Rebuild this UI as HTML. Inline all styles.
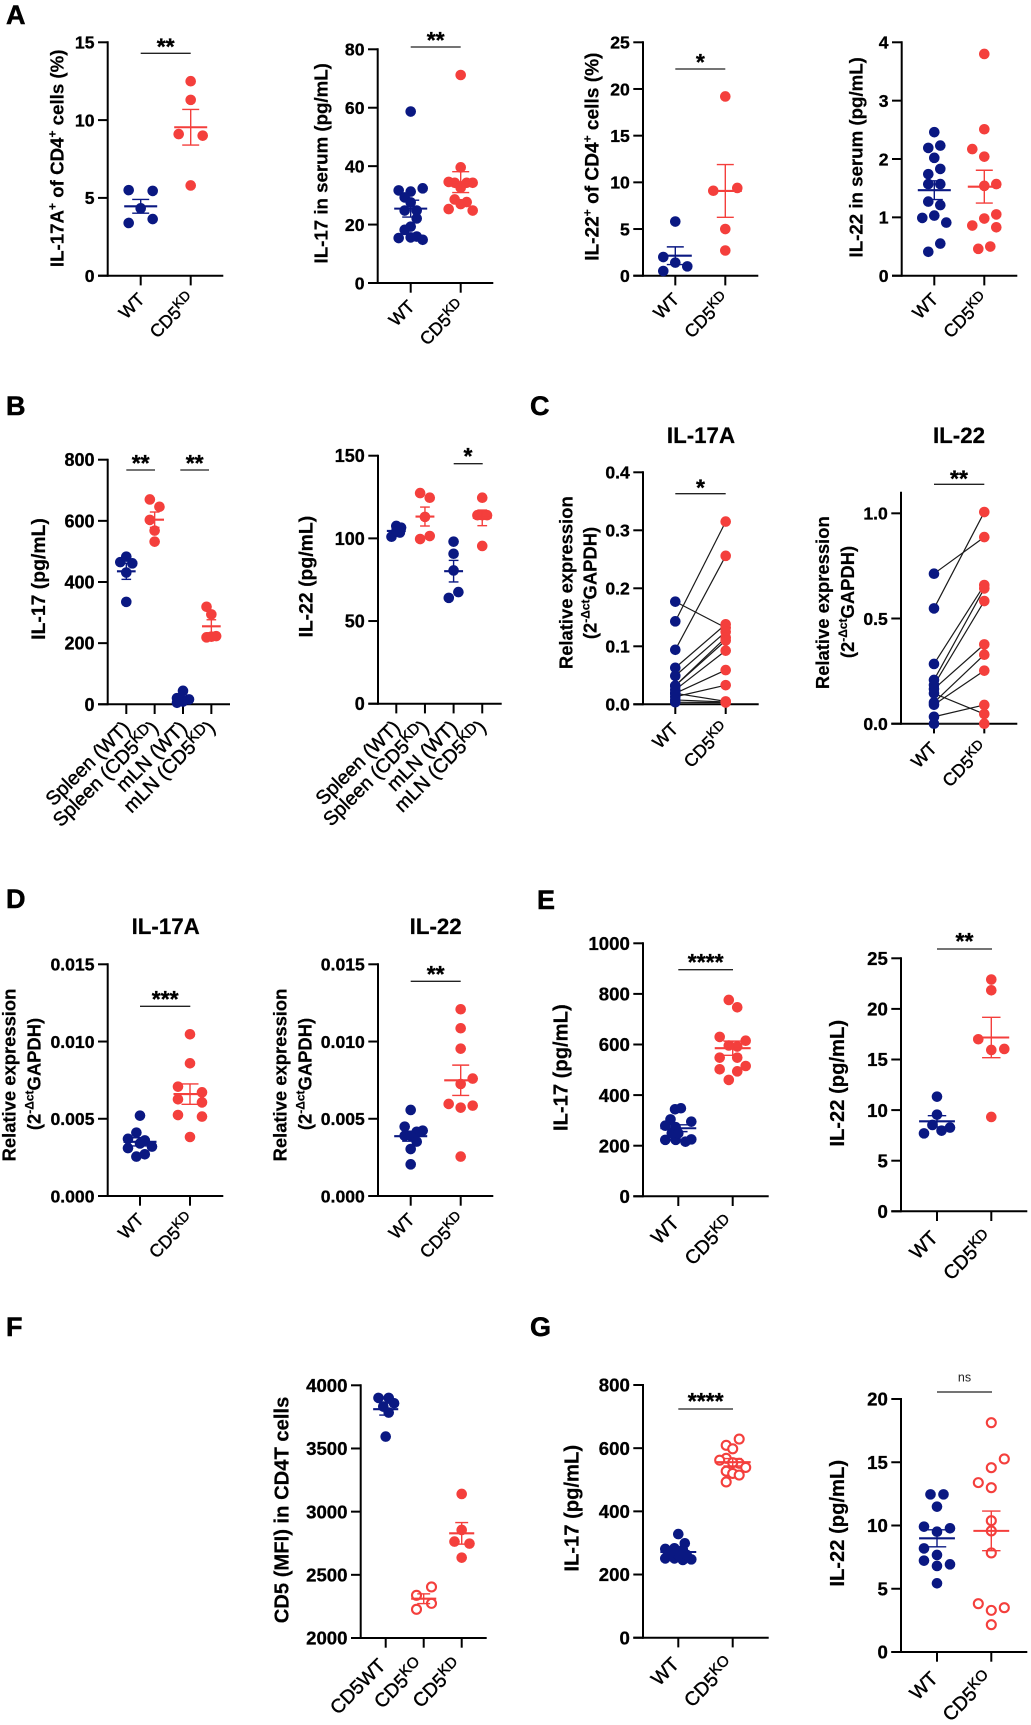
<!DOCTYPE html>
<html lang="en">
<head>
<meta charset="utf-8">
<title>CD5 knockdown cytokine panels</title>
<style>
html,body{margin:0;padding:0;background:#fff;}
svg{display:block;font-family:"Liberation Sans",Arial,sans-serif;}
.panel-letter{font-size:27px;font-weight:bold;fill:#000;stroke:#000;stroke-width:.5;}
.title{font-size:22.3px;font-weight:bold;text-anchor:middle;stroke:#000;stroke-width:.25;}
.axis-title{font-size:18.4px;font-weight:bold;text-anchor:middle;stroke:#000;stroke-width:.2;}
.at-a{font-size:18.7px;}
.at-a3{font-size:19.1px;}
.at-b{font-size:19.4px;}
.at-e{font-size:20.2px;}
.sup{font-size:12px;}
.stars{font-size:23px;font-weight:bold;text-anchor:middle;stroke:#000;stroke-width:.3;}
.ns{font-size:12.5px;text-anchor:middle;fill:#222;}
.sig{stroke:#222;stroke-width:1.3;}
.tick-label{font-weight:bold;text-anchor:end;stroke:#000;stroke-width:.3;}
.cat-label{text-anchor:end;stroke:#000;stroke-width:.42;}
</style>
</head>
<body>
<svg id="chart-root" xmlns="http://www.w3.org/2000/svg" width="1031" height="1725" viewBox="0 0 1031 1725">
<rect width="1031" height="1725" fill="#fff"/>

<text class="panel-letter" x="6" y="24">A</text>
<text class="panel-letter" x="6" y="415">B</text>
<text class="panel-letter" x="530" y="415">C</text>
<text class="panel-letter" x="6" y="908">D</text>
<text class="panel-letter" x="537" y="909">E</text>
<text class="panel-letter" x="6" y="1336">F</text>
<text class="panel-letter" x="530" y="1336">G</text>

<text class="title" x="701" y="443">IL-17A</text>
<text class="title" x="959" y="443">IL-22</text>
<text class="title" x="165.7" y="934">IL-17A</text>
<text class="title" x="435.7" y="934">IL-22</text>

<text class="axis-title at-a" transform="translate(63.3,158.3) rotate(-90)">IL-17A<tspan class="sup" dy="-7">+</tspan><tspan dy="7"> of CD4</tspan><tspan class="sup" dy="-7">+</tspan><tspan dy="7"> cells (%)</tspan></text>
<text class="axis-title at-a" transform="translate(327.7,163.3) rotate(-90)">IL-17 in serum (pg/mL)</text>
<text class="axis-title at-a3" transform="translate(598.3,156.7) rotate(-90)">IL-22<tspan class="sup" dy="-7">+</tspan><tspan dy="7"> of CD4</tspan><tspan class="sup" dy="-7">+</tspan><tspan dy="7"> cells (%)</tspan></text>
<text class="axis-title at-a" transform="translate(862.7,157.3) rotate(-90)">IL-22 in serum (pg/mL)</text>
<text class="axis-title at-b" transform="translate(45,579) rotate(-90)">IL-17 (pg/mL)</text>
<text class="axis-title at-b" transform="translate(312.7,576.7) rotate(-90)">IL-22 (pg/mL)</text>
<text class="axis-title" transform="translate(572.3,582.7) rotate(-90)">Relative expression</text>
<text class="axis-title" transform="translate(596.7,583) rotate(-90)">(2<tspan class="sup" dy="-7">-Δct</tspan><tspan dy="7">GAPDH)</tspan></text>
<text class="axis-title" transform="translate(829,602.7) rotate(-90)">Relative expression</text>
<text class="axis-title" transform="translate(854,602) rotate(-90)">(2<tspan class="sup" dy="-7">-Δct</tspan><tspan dy="7">GAPDH)</tspan></text>
<text class="axis-title" transform="translate(15.7,1075) rotate(-90)">Relative expression</text>
<text class="axis-title" transform="translate(40.7,1074) rotate(-90)">(2<tspan class="sup" dy="-7">-Δct</tspan><tspan dy="7">GAPDH)</tspan></text>
<text class="axis-title" transform="translate(286.7,1075) rotate(-90)">Relative expression</text>
<text class="axis-title" transform="translate(311.7,1074) rotate(-90)">(2<tspan class="sup" dy="-7">-Δct</tspan><tspan dy="7">GAPDH)</tspan></text>
<text class="axis-title at-e" transform="translate(567.3,1067.7) rotate(-90)">IL-17 (pg/mL)</text>
<text class="axis-title at-e" transform="translate(844,1083.3) rotate(-90)">IL-22 (pg/mL)</text>
<text class="axis-title at-e" transform="translate(288.3,1510) rotate(-90)">CD5 (MFI) in CD4T cells</text>
<text class="axis-title at-e" transform="translate(578.3,1508.3) rotate(-90)">IL-17 (pg/mL)</text>
<text class="axis-title at-e" transform="translate(844,1523.3) rotate(-90)">IL-22 (pg/mL)</text>

<g><line class="sig" x1="140.7" x2="190.7" y1="53.3" y2="53.3"/><text class="stars" x="165.7" y="54.7">**</text></g>
<g><line class="sig" x1="410.7" x2="460.7" y1="47" y2="47"/><text class="stars" x="435.7" y="48">**</text></g>
<g><line class="sig" x1="675.3" x2="725.3" y1="69" y2="69"/><text class="stars" x="700.3" y="70">*</text></g>
<g><line class="sig" x1="126.3" x2="155" y1="470" y2="470"/><text class="stars" x="140.7" y="471">**</text></g>
<g><line class="sig" x1="180.3" x2="209" y1="470" y2="470"/><text class="stars" x="194.7" y="471">**</text></g>
<g><line class="sig" x1="453.7" x2="482.7" y1="463.7" y2="463.7"/><text class="stars" x="468" y="464">*</text></g>
<g><line class="sig" x1="675.3" x2="725.7" y1="493.7" y2="493.7"/><text class="stars" x="700.5" y="495.3">*</text></g>
<g><line class="sig" x1="934" x2="984.3" y1="484.3" y2="484.3"/><text class="stars" x="959" y="486.3">**</text></g>
<g><line class="sig" x1="140" x2="190.3" y1="1006.3" y2="1006.3"/><text class="stars" x="165.2" y="1007">***</text></g>
<g><line class="sig" x1="410.7" x2="460.7" y1="981.3" y2="981.3"/><text class="stars" x="435.7" y="982">**</text></g>
<g><line class="sig" x1="678.3" x2="733" y1="969.7" y2="969.7"/><text class="stars" x="705.7" y="970">****</text></g>
<g><line class="sig" x1="937" x2="992" y1="949" y2="949"/><text class="stars" x="964.5" y="949">**</text></g>
<g><line class="sig" x1="678.3" x2="733" y1="1409" y2="1409"/><text class="stars" x="705.7" y="1409">****</text></g>
<g><line class="sig" x1="937" x2="992" y1="1392" y2="1392"/><text class="ns" x="964.5" y="1381.7">ns</text></g>
</svg>

<script>
// ---- Category labels ("|" toggles superscript) ----
const catsKd = ['WT', 'CD5|KD'];
const catsKo = ['WT', 'CD5|KO'];
const catsTissue = ['Spleen (WT)', 'Spleen (CD5|KD|)', 'mLN (WT)', 'mLN (CD5|KD|)'];
const catsCd5 = ['CD5WT', 'CD5|KO', 'CD5|KD'];

// ---- Tick labels ----
const a1Ticks = ['0', '5', '10', '15'];
const a2Ticks = ['0', '20', '40', '60', '80'];
const a3Ticks = ['0', '5', '10', '15', '20', '25'];
const a4Ticks = ['0', '1', '2', '3', '4'];
const b1Ticks = ['0', '200', '400', '600', '800'];
const b2Ticks = ['0', '50', '100', '150'];
const c1Ticks = ['0.0', '0.1', '0.2', '0.3', '0.4'];
const c2Ticks = ['0.0', '0.5', '1.0'];
const dTicks = ['0.000', '0.005', '0.010', '0.015'];
const e1Ticks = ['0', '200', '400', '600', '800', '1000'];
const e2Ticks = ['0', '5', '10', '15', '20', '25'];
const fTicks = ['2000', '2500', '3000', '3500', '4000'];
const g1Ticks = ['0', '200', '400', '600', '800'];
const g2Ticks = ['0', '5', '10', '15', '20'];

// ---- Series values, with swarm lane numbers for each point ----
const a1Wt = [5.5, 5.45, 4.33, 3.64, 3.39];
const a1WtLanes = [-2, 2, 0, 2, -2];
const a1Kd = [12.5, 11.3, 9.1, 9.0, 5.8];
const a1KdLanes = [0, 0, -2, 2, 0];

const a2Wt = [58.7, 31.7, 31.3, 32.4, 29.3, 27.6, 24.8, 24.8, 22.1, 19.3, 18.2, 15.4, 15.6, 15.9, 14.8];
const a2WtLanes = [0, -2, 0, 2, -1, 0, -1, 1, 1, 0, -1, -2, 0, 1, 2];
const a2Kd = [71.2, 39.6, 34.6, 34.3, 34.3, 34.3, 32.6, 28.6, 27.7, 27, 25.3, 24.8];
const a2KdLanes = [0, 0, -2, -1, 2, 1, 0, -1, 1, 0, -2, 2];

const a3Wt = [5.8, 2.0, 1.4, 1.0, 0.5];
const a3WtLanes = [0, -2, 0, 2, -2];
const a3Kd = [19.2, 9.4, 9.1, 5.0, 2.7];
const a3KdLanes = [0, 2, -2, 0, 0];

const a4Wt = [2.46, 2.19, 2.23, 2.02, 1.83, 1.74, 1.57, 1.57, 1.27, 1.21, 0.99, 1.03, 0.91, 0.55, 0.41];
const a4WtLanes = [0, -1, 1, 0, 1, -1, -1, 1, -1, 1, -2, 0, 2, 1, -1];
const a4Kd = [3.8, 2.51, 2.17, 2.04, 1.54, 1.57, 1.05, 0.98, 0.86, 0.83, 0.5, 0.46];
const a4KdLanes = [0, 0, -2, 0, 0, 2, 2, 0, -2, 2, 1, -1];

const b1SpleenWt = [483, 465, 461, 431, 335];
const b1SpleenWtLanes = [0, -1, 1, 0, 0];
const b1SpleenKd = [670, 646, 603, 568, 532];
const b1SpleenKdLanes = [-0.8, 0.8, -0.8, 0, 0];
const b1MlnWt = [44, 20, 16, 9, 5];
const b1MlnWtLanes = [0, -1, 1, 0, -1];
const b1MlnKd = [319, 294, 219, 223, 221];
const b1MlnKdLanes = [-0.8, 0, -0.8, 0.8, 0];

const b2SpleenWt = [101, 107.5, 106.5, 104, 103.5];
const b2SpleenWtLanes = [-0.8, 0, 0.8, 0, 0.6];
const b2SpleenKd = [127.4, 124.6, 113, 101.4, 99.6];
const b2SpleenKdLanes = [-0.8, 0.8, 0, 0.8, -0.8];
const b2MlnWt = [98, 90.7, 80.6, 67.5, 64];
const b2MlnWtLanes = [0, 0, 0, 0.8, -0.8];
const b2MlnKd = [124.6, 114, 114, 114, 95.4];
const b2MlnKdLanes = [0, -0.8, 0.8, 0, 0];

const c1Wt = [0.143, 0.094, 0.177, 0.063, 0.049, 0.032, 0.032, 0.025, 0.019, 0.013, 0.019, 0.0075, 0.0035];
const c1Kd = [0.315, 0.256, 0.132, 0.138, 0.125, 0.115, 0.11, 0.0925, 0.059, 0.033, 0.005, 0.004, 0.003];

const c2Wt = [0.713, 0.548, 0.284, 0.208, 0.184, 0.165, 0.144, 0.101, 0.09, 0.033, 0];
const c2Kd = [0.887, 1.006, 0.659, 0.643, 0.583, 0.377, 0.046, 0.328, 0.252, 0.089, 0];

const d1Wt = [0.0052, 0.0041, 0.0037, 0.0036, 0.0034, 0.0031, 0.0032, 0.0027, 0.00255];
const d1WtLanes = [0, -0.6, -2, 0.8, 0, -2, 2, 0.8, -0.6];
const d1Kd = [0.01047, 0.00859, 0.00708, 0.00671, 0.00626, 0.00606, 0.00524, 0.00514, 0.00382];
const d1KdLanes = [0, 0, -2, 2, -2, 2, -2, 2, 0];

const d2Wt = [0.00557, 0.00449, 0.00423, 0.00416, 0.0039, 0.0039, 0.00352, 0.00304, 0.00205];
const d2WtLanes = [0, -1, 2, 1, -1, 0, 1, 0, 0];
const d2Kd = [0.01209, 0.01086, 0.00954, 0.00725, 0.0076, 0.00596, 0.00572, 0.00585, 0.00255];
const d2KdLanes = [0, 0, 0, 0, 2, -2, 0, 2, 0];

const e1Wt = [344, 348, 304, 295, 279, 273, 223, 223, 225, 216, 249, 249];
const e1WtLanes = [-0.5, 0.4, -1.2, 2, -2, -0.4, -2, -0.4, 2, 1.1, -1, 0];
const e1Kd = [776, 747, 630, 615, 596, 592, 548, 548, 515, 502, 494, 460];
const e1KdLanes = [-0.6, 0.7, -2, 2, -0.6, 0.7, -2, 0.7, 2, -2, 0.7, -0.6];

const e2Wt = [11.33, 9.55, 8.53, 8.27, 7.97, 7.7];
const e2WtLanes = [0, 0, -0.7, 2, 0.7, -2];
const e2Kd = [22.9, 21.84, 17, 15.94, 16.04, 9.32];
const e2KdLanes = [0, 0, -2, 0, 2, 0];

const fWt = [3900, 3900, 3858, 3832, 3784, 3594];
const fWtLanes = [-1.2, 0.5, 1.4, -0.4, 0.5, 0];
const fKo = [2404, 2338, 2274, 2227];
const fKoLanes = [1.3, -1.2, 1.3, -1.2];
const fKd = [3140, 2855, 2763, 2747, 2636];
const fKdLanes = [0, 0, -1.2, 1.3, 0];

const g1Wt = [328, 299, 281, 283, 278, 251, 251, 246, 248, 262, 267, 262];
const g1WtLanes = [0, 1, -2, -0.6, 0.7, -2, -0.6, 0.7, 2, 0, -1.3, 1.3];
const g1Ko = [629, 609, 598, 568, 562, 552, 554, 539, 527, 520, 515, 493];
const g1KoLanes = [1, -1, 0, -1, -2, 1, 0, 2, -1, 0, 1, -1];

const g2Wt = [12.46, 12.46, 11.49, 9.91, 9.78, 9.51, 8.19, 7.67, 7.22, 6.93, 6.8, 5.43];
const g2WtLanes = [-1, 1, 0, -2, 2, 0, -2, 0, -2, 2, 0, 0];
const g2Ko = [18.13, 15.26, 14.57, 13.39, 12.99, 10.38, 9.57, 7.83, 3.82, 3.5, 3.29, 2.16];
const g2KoLanes = [0, 2, 0, -2, 0, 0, 0, 0, -2, 2, 0, 0];

const NAVY = '#0a1882';
const RED = '#f43f3c';

// ---- Panel layout (axis frames and text sizing), separate from the data ----
const panels = [
  {id:'a1', x:107.7, top:42.3, bottom:275.7, right:223.3, first:140.7, step:50, min:0, max:15, ticks:a1Ticks, cats:catsKd,
   groups:[{v:a1Wt, l:a1WtLanes, c:NAVY}, {v:a1Kd, l:a1KdLanes, c:RED}]},
  {id:'a2', x:377.7, top:49.3, bottom:283, right:493.3, first:410.7, step:50, min:0, max:80, ticks:a2Ticks, cats:catsKd,
   groups:[{v:a2Wt, l:a2WtLanes, c:NAVY}, {v:a2Kd, l:a2KdLanes, c:RED}]},
  {id:'a3', x:643, top:42.3, bottom:275.7, right:758.3, first:675.3, step:50, min:0, max:25, ticks:a3Ticks, cats:catsKd,
   groups:[{v:a3Wt, l:a3WtLanes, c:NAVY}, {v:a3Kd, l:a3KdLanes, c:RED}]},
  {id:'a4', x:901.7, top:42.3, bottom:275.7, right:1017.3, first:934.3, step:50, min:0, max:4, ticks:a4Ticks, cats:catsKd,
   groups:[{v:a4Wt, l:a4WtLanes, c:NAVY}, {v:a4Kd, l:a4KdLanes, c:RED}]},
  {id:'b1', x:107.7, top:459.7, bottom:704.3, right:230, first:126.3, step:28.35, min:0, max:800, ticks:b1Ticks, cats:catsTissue, catFont:19.6, tickFont:18,
   groups:[{v:b1SpleenWt, l:b1SpleenWtLanes, c:NAVY}, {v:b1SpleenKd, l:b1SpleenKdLanes, c:RED}, {v:b1MlnWt, l:b1MlnWtLanes, c:NAVY}, {v:b1MlnKd, l:b1MlnKdLanes, c:RED}]},
  {id:'b2', x:378, top:455.7, bottom:703.7, right:501.7, first:396.3, step:28.65, min:0, max:150, ticks:b2Ticks, cats:catsTissue, catFont:19.6, tickFont:18,
   groups:[{v:b2SpleenWt, l:b2SpleenWtLanes, c:NAVY}, {v:b2SpleenKd, l:b2SpleenKdLanes, c:RED}, {v:b2MlnWt, l:b2MlnWtLanes, c:NAVY}, {v:b2MlnKd, l:b2MlnKdLanes, c:RED}]},
  {id:'c1', x:643, top:472.3, bottom:704.3, right:758.7, first:675.3, step:50.4, min:0, max:0.4, ticks:c1Ticks, cats:catsKd, paired:true, labelShift:2,
   groups:[{v:c1Wt, c:NAVY}, {v:c1Kd, c:RED}]},
  {id:'c2', x:901, top:492.7, bottom:723.7, right:1017.3, first:934, step:50.3, min:0, max:1.098, ticks:c2Ticks, cats:catsKd, paired:true, labelShift:2,
   groups:[{v:c2Wt, c:NAVY}, {v:c2Kd, c:RED}]},
  {id:'d1', x:107.7, top:964.3, bottom:1196, right:223.3, first:140, step:50, min:0, max:0.015, ticks:dTicks, cats:catsKd,
   groups:[{v:d1Wt, l:d1WtLanes, c:NAVY}, {v:d1Kd, l:d1KdLanes, c:RED}]},
  {id:'d2', x:378, top:964.3, bottom:1196, right:493.3, first:410.7, step:50, min:0, max:0.015, ticks:dTicks, cats:catsKd,
   groups:[{v:d2Wt, l:d2WtLanes, c:NAVY}, {v:d2Kd, l:d2KdLanes, c:RED}]},
  {id:'e1', x:643, top:943.3, bottom:1196.3, right:768.7, first:678.3, step:54.4, min:0, max:1000, ticks:e1Ticks, cats:catsKd, lane:6.5, catFont:19.4, tickFont:18.6, labelShift:4,
   groups:[{v:e1Wt, l:e1WtLanes, c:NAVY}, {v:e1Kd, l:e1KdLanes, c:RED}]},
  {id:'e2', x:901, top:958.3, bottom:1211.3, right:1027.3, first:937, step:54.3, min:0, max:25, ticks:e2Ticks, cats:catsKd, lane:6.5, catFont:19.4, tickFont:18.6, labelShift:4,
   groups:[{v:e2Wt, l:e2WtLanes, c:NAVY}, {v:e2Kd, l:e2KdLanes, c:RED}]},
  {id:'f', x:360.7, top:1385.3, bottom:1638, right:486.7, first:385.7, step:38, min:2000, max:4000, ticks:fTicks, cats:catsCd5, catFont:19.4, tickFont:18.6, labelShift:5,
   groups:[{v:fWt, l:fWtLanes, c:NAVY}, {v:fKo, l:fKoLanes, c:RED, open:true}, {v:fKd, l:fKdLanes, c:RED}]},
  {id:'g1', x:643, top:1385, bottom:1637.7, right:768.7, first:678.3, step:54.4, min:0, max:800, ticks:g1Ticks, cats:catsKo, lane:6.5, catFont:19.4, tickFont:18.6, labelShift:4,
   groups:[{v:g1Wt, l:g1WtLanes, c:NAVY}, {v:g1Ko, l:g1KoLanes, c:RED, open:true}]},
  {id:'g2', x:901, top:1399, bottom:1652, right:1027.3, first:937, step:54.3, min:0, max:20, ticks:g2Ticks, cats:catsKo, lane:6.5, catFont:19.4, tickFont:18.6, labelShift:4,
   groups:[{v:g2Wt, l:g2WtLanes, c:NAVY}, {v:g2Ko, l:g2KoLanes, c:RED, open:true}]}
];

const NS = 'http://www.w3.org/2000/svg';
const root = document.getElementById('chart-root');

function svgEl(parent, tag) {
  const el = document.createElementNS(NS, tag);
  parent.appendChild(el);
  return el;
}
function setLine(el, x1, y1, x2, y2, color, width) {
  el.setAttribute('x1', x1);
  el.setAttribute('y1', y1);
  el.setAttribute('x2', x2);
  el.setAttribute('y2', y2);
  el.setAttribute('stroke', color);
  el.setAttribute('stroke-width', width);
}
function meanOf(a) {
  return a.reduce(function (s, n) { return s + n; }, 0) / a.length;
}
function semOf(a) {
  const m = meanOf(a);
  const ss = a.reduce(function (s, n) { return s + (n - m) * (n - m); }, 0);
  return Math.sqrt(ss / (a.length - 1)) / Math.sqrt(a.length);
}

function drawPanel(p) {
  const yScale = function (v) {
    return p.bottom - (v - p.min) / (p.max - p.min) * (p.bottom - p.top);
  };
  const xScale = function (i) {
    return p.first + i * p.step;
  };
  const laneW = p.lane || 6;
  const tickLen = 9.7;
  const axisW = 2;
  const catFont = p.catFont || 17.8;
  const tickFont = p.tickFont || 17.6;
  const shift = p.labelShift || 1;

  const g = svgEl(root, 'g');
  
  

  const yAxis = svgEl(g, 'line');
  
  
  setLine(yAxis, p.x, p.top - 1, p.x, p.bottom + 1, '#000', axisW);

  const xAxis = svgEl(g, 'line');
  
  
  setLine(xAxis, p.x - tickLen, p.bottom, p.right, p.bottom, '#000', axisW);

  p.ticks.forEach(function (t) {
    const y = yScale(Number(t));
    const tick = svgEl(g, 'line');
    
    
    setLine(tick, p.x - tickLen, y, p.x, y, '#000', axisW);
    const label = svgEl(g, 'text');
    
    
    label.setAttribute('class', 'tick-label');
    label.setAttribute('font-size', tickFont);
    label.setAttribute('x', p.x - tickLen - 3.5);
    label.setAttribute('y', y + tickFont * 0.36);
    label.textContent = t;
  });

  p.cats.forEach(function (c, i) {
    const x = xScale(i);
    const tick = svgEl(g, 'line');
    
    
    setLine(tick, x, p.bottom, x, p.bottom + tickLen, '#000', axisW);
    const label = svgEl(g, 'text');
    
    
    label.setAttribute('class', 'cat-label');
    label.setAttribute('font-size', catFont);
    label.setAttribute('transform', 'translate(' + (x + 6 - shift) + ',' + (p.bottom + tickLen + 14 + shift) + ') rotate(-45)');
    c.split('|').forEach(function (part, k) {
      if (!part) return;
      const span = svgEl(label, 'tspan');
      span.textContent = part;
      if (k % 2 === 1) {
        span.setAttribute('font-size', catFont * 0.77);
        span.setAttribute('dy', '-6');
      } else if (k > 0) {
        span.setAttribute('dy', '6');
      }
    });
  });

  if (p.paired) {
    p.groups[0].v.forEach(function (v, k) {
      const link = svgEl(g, 'line');
      
      
      setLine(link, xScale(0), yScale(v), xScale(1), yScale(p.groups[1].v[k]), '#1a1a1a', 1.2);
    });
  }

  p.groups.forEach(function (gr, i) {
    const cx = xScale(i);
    gr.v.forEach(function (v, k) {
      const dot = svgEl(g, 'circle');
      
      
      dot.setAttribute('cx', cx + (gr.l ? gr.l[k] : 0) * laneW);
      dot.setAttribute('cy', yScale(v));
      if (gr.open) {
        dot.setAttribute('r', 4.5);
        dot.setAttribute('fill', '#fff');
        dot.setAttribute('stroke', gr.c);
        dot.setAttribute('stroke-width', 2.1);
      } else {
        dot.setAttribute('r', 5.3);
        dot.setAttribute('fill', gr.c);
      }
    });
    if (!p.paired) {
      const m = meanOf(gr.v);
      const s = semOf(gr.v);
      const meanHalf = p.step * 0.33;
      const capHalf = p.step * 0.17;
      const mean = svgEl(g, 'line');
      
      
      setLine(mean, cx - meanHalf, yScale(m), cx + meanHalf, yScale(m), gr.c, 2.1);
      const stem = svgEl(g, 'line');
      
      
      setLine(stem, cx, yScale(m + s), cx, yScale(m - s), gr.c, 1.4);
      const capTop = svgEl(g, 'line');
      
      
      setLine(capTop, cx - capHalf, yScale(m + s), cx + capHalf, yScale(m + s), gr.c, 1.4);
      const capBottom = svgEl(g, 'line');
      
      
      setLine(capBottom, cx - capHalf, yScale(m - s), cx + capHalf, yScale(m - s), gr.c, 1.4);
    }
  });
}

panels.forEach(drawPanel);
</script>
</body>
</html>
